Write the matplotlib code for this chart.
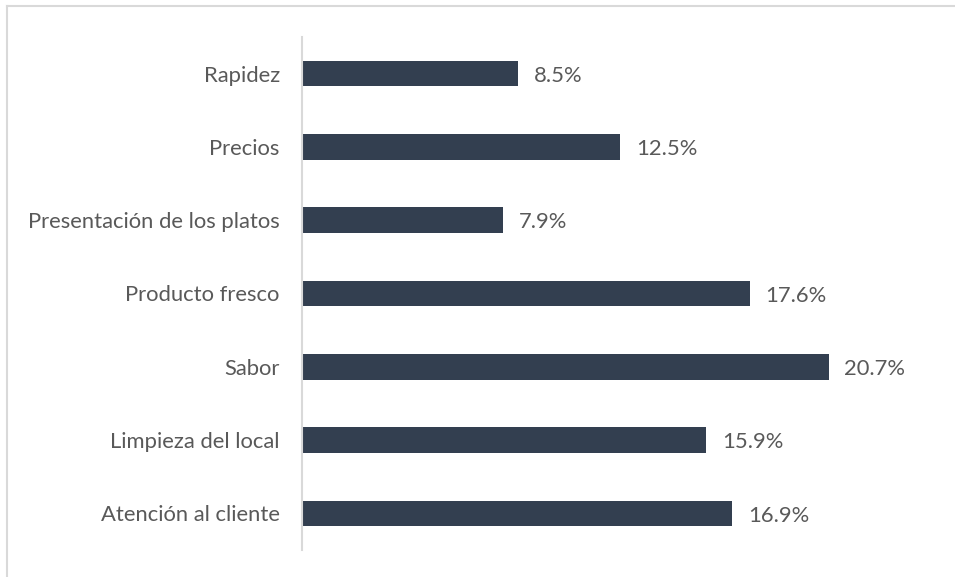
import matplotlib.pyplot as plt
from matplotlib.lines import Line2D

categorias = ['Rapidez', 'Precios', 'Presentación de los platos', 'Producto fresco',
              'Sabor', 'Limpieza del local', 'Atención al cliente']
porcentajes = [8.5, 12.5, 7.9, 17.6, 20.7, 15.9, 16.9]

plt.rcParams['font.family'] = ['Lato', 'DejaVu Sans']

W, H = 955, 577
fig = plt.figure(figsize=(W / 100, H / 100), dpi=100)
ax = fig.add_axes([302 / W, 1 - 550 / H, (938 - 302) / W, (550 - 37) / H])

gris = '#595959'
barras = ax.barh(range(len(categorias)), porcentajes, height=0.35, color='#333F50')
ax.set_ylim(len(categorias) - 0.5, -0.5)
ax.set_xlim(0, 25)

for i, v in enumerate(porcentajes):
    ax.text(v + 0.62, i + 0.03, f'{v:.1f}%', va='center', ha='left', fontsize=15.8, color=gris)

ax.set_yticks(range(len(categorias)))
ax.set_yticklabels(categorias, fontsize=15.8, color=gris)
ax.tick_params(axis='y', length=0, pad=16)
ax.set_xticks([])
for lado in ['top', 'right', 'bottom']:
    ax.spines[lado].set_visible(False)
ax.spines['left'].set_color('#D9D9D9')
ax.spines['left'].set_linewidth(1.5)

# borde del gráfico
fig.add_artist(Line2D([7 / W, 1], [1 - 6 / H, 1 - 6 / H], color='#D9D9D9', lw=1.5,
                      transform=fig.transFigure))
fig.add_artist(Line2D([7 / W, 7 / W], [0, 1 - 6 / H], color='#D9D9D9', lw=1.5,
                      transform=fig.transFigure))

fig.savefig('out.png', dpi=100)
